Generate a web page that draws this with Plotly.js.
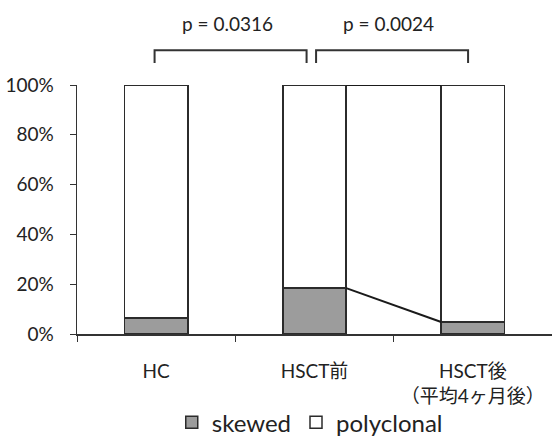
<!DOCTYPE html>
<html>
<head>
<meta charset="utf-8">
<script src="https://cdn.plot.ly/plotly-3.0.1.min.js"></script>
<style>html,body{margin:0;padding:0;background:#fff;}#chart{width:552px;height:438px;}</style>
</head>
<body>
<div id="chart"></div>
<script>
var categories = ['HC', 'HSCT前', 'HSCT後<br>（平均4ヶ月後）'];
var skewed = [0.064, 0.184, 0.048];
var polyclonal = [0.936, 0.816, 0.952];
var pLabels = ['p = 0.0316', 'p = 0.0024'];

var FONT = 'Lato, "Noto Sans CJK JP", sans-serif';
var barWidth = 0.4;
var lineCol = '#2b2b2b';

var traces = [
  {type: 'bar', name: 'skewed', x: categories, y: skewed, width: barWidth,
   marker: {color: '#9c9c9c', line: {color: lineCol, width: 1.5}}, hoverinfo: 'none'},
  {type: 'bar', name: 'polyclonal', x: categories, y: polyclonal, width: barWidth,
   marker: {color: '#ffffff', line: {color: lineCol, width: 1.5}}, hoverinfo: 'none'},
  {type: 'scatter', mode: 'lines', xaxis: 'x2', showlegend: false,
   x: [1 + barWidth / 2, 2 - barWidth / 2], y: [skewed[1], skewed[2]],
   line: {color: '#1a1a1a', width: 2}, hoverinfo: 'none'},
  {type: 'scatter', mode: 'lines', xaxis: 'x2', showlegend: false,
   x: [1 + barWidth / 2, 2 - barWidth / 2], y: [skewed[1] + polyclonal[1], skewed[2] + polyclonal[2]],
   line: {color: '#1a1a1a', width: 2}, hoverinfo: 'none'}
];

var bracketTop = 1.14, bracketBot = 1.088;
var brackets = [[-0.01, 0.95], [1.01, 1.97]];
var shapes = [];
brackets.forEach(function (b) {
  shapes.push({type: 'path', xref: 'x2', yref: 'paper',
    path: 'M' + b[0] + ',' + bracketBot + ' L' + b[0] + ',' + bracketTop + ' L' + b[1] + ',' + bracketTop + ' L' + b[1] + ',' + bracketBot,
    line: {color: '#333', width: 2}});
});

var annotations = pLabels.map(function (t, i) {
  return {xref: 'x2', yref: 'paper', x: (brackets[i][0] + brackets[i][1]) / 2 - 0.02, y: 1.245,
    yanchor: 'middle', xanchor: 'center',
    text: t, showarrow: false, font: {family: FONT, size: 19, color: '#222'}};
});

var layout = {
  width: 552, height: 438,
  margin: {l: 77, r: 0, t: 85, b: 104, autoexpand: false},
  paper_bgcolor: '#fff', plot_bgcolor: '#fff',
  barmode: 'stack',
  showlegend: true,
  legend: {orientation: 'h', x: 0.49, xanchor: 'center', y: 0.035, yref: 'container', yanchor: 'middle',
    bgcolor: 'rgba(0,0,0,0)', traceorder: 'normal', font: {family: FONT, size: 24, color: '#222'}, itemwidth: 30},
  font: {family: FONT, color: '#222'},
  xaxis: {type: 'category', range: [-0.5, 2.5], tickson: 'boundaries', ticks: 'outside', ticklen: 6,
    tickcolor: '#333', showline: true, linecolor: '#333', linewidth: 1.5, showgrid: false,
    ticklabelstandoff: 20,
    tickfont: {family: FONT, size: 19, color: '#222'}, fixedrange: true},
  xaxis2: {overlaying: 'x', range: [-0.5, 2.5], visible: false, fixedrange: true},
  yaxis: {range: [0, 1], dtick: 0.2, tickformat: '.0%', ticks: 'outside', ticklen: 6,
    tickcolor: '#333', showline: true, linecolor: '#333', linewidth: 1.5, showgrid: false,
    ticklabelstandoff: 12,
    zeroline: false, tickfont: {family: FONT, size: 19, color: '#222'}, fixedrange: true},
  shapes: shapes,
  annotations: annotations
};

Plotly.newPlot('chart', traces, layout, {displayModeBar: false, staticPlot: true});
</script>
</body>
</html>
